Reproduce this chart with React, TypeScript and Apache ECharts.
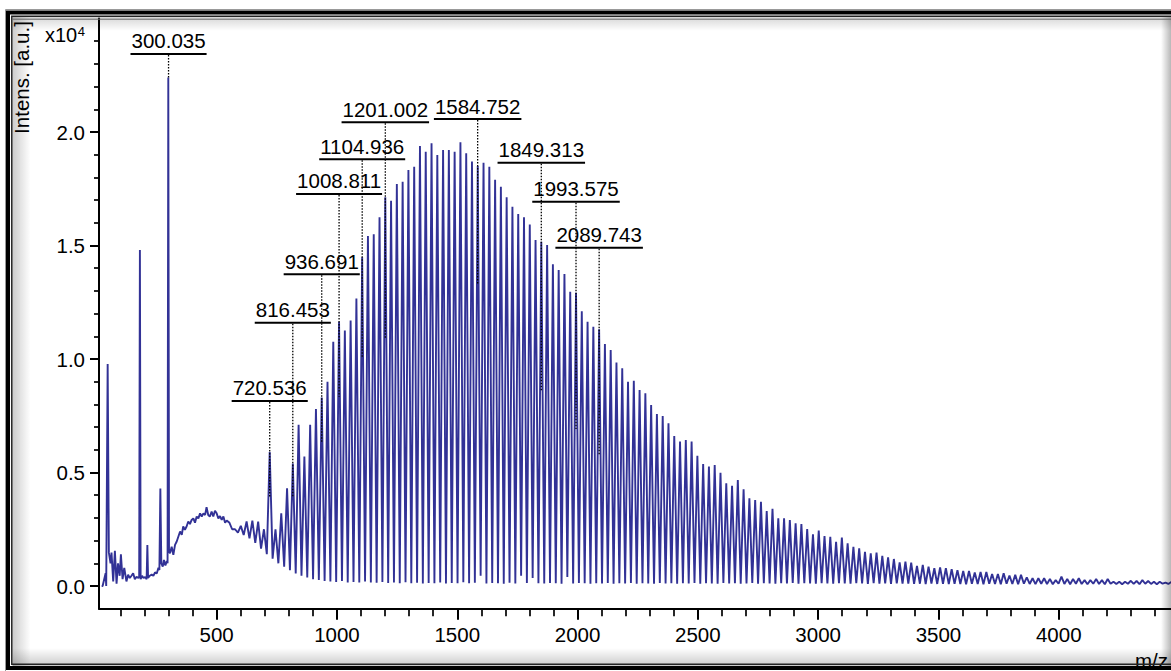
import React, { useEffect, useRef } from 'react';
import * as echarts from 'echarts';

// Low-mass region (matrix peaks + broad hump), m/z and intensity (x10^4 a.u.)
const lowMassMz = [22, 26, 38.5, 41, 47, 52, 59, 63, 70, 77, 84, 90, 97, 102, 109, 116, 125, 132, 139, 146, 153, 160, 167, 175, 178, 181, 184, 190, 196, 203, 209, 212, 215, 222, 230, 237, 244, 251, 258, 262, 266, 270, 276, 281, 287, 293, 296, 299, 302, 306, 313, 320, 327, 334, 341, 348, 355, 361, 368, 375, 382, 389, 396, 403, 410, 417, 424, 431, 438, 445, 452, 458, 465, 472, 479, 486, 493, 500, 507, 514, 521, 528, 535, 542];
const lowMassIntensity = [0, 0, 0.056, 0, 0.978, 0.147, 0.1, 0.147, 0.02, 0.155, 0.01, 0.1, 0.045, 0.14, 0.03, 0.08, 0.02, 0.05, 0.035, 0.045, 0.056, 0.03, 0.04, 0.035, 0.04, 1.48, 0.03, 0.045, 0.035, 0.04, 0.03, 0.18, 0.035, 0.045, 0.05, 0.045, 0.06, 0.055, 0.08, 0.07, 0.43, 0.1, 0.085, 0.115, 0.09, 0.11, 0.1, 2.24, 0.15, 0.144, 0.173, 0.137, 0.181, 0.196, 0.218, 0.24, 0.225, 0.262, 0.247, 0.262, 0.284, 0.273, 0.291, 0.298, 0.279, 0.306, 0.298, 0.32, 0.306, 0.32, 0.313, 0.347, 0.313, 0.306, 0.328, 0.306, 0.332, 0.32, 0.298, 0.308, 0.291, 0.306, 0.279, 0.288];

// Oligomer peak series (peak tops)
const peakMz = [
  552.4, 576.4, 600.4, 624.4, 648.4, 672.5, 696.5,
  720.5, 744.5, 768.5, 792.6, 816.6, 840.6, 864.6, 888.6, 912.7, 936.7,
  960.7, 984.7, 1008.7, 1032.8, 1056.8, 1080.8, 1104.8, 1128.8, 1152.9, 1176.9,
  1200.9, 1224.9, 1248.9, 1273.0, 1297.0, 1321.0, 1345.0, 1369.0, 1393.1, 1417.1,
  1441.1, 1465.1, 1489.1, 1513.2, 1537.2, 1561.2, 1585.2, 1609.2, 1633.3, 1657.3,
  1681.3, 1705.3, 1729.3, 1753.4, 1777.4, 1801.4, 1825.4, 1849.4, 1873.5, 1897.5,
  1921.5, 1945.5, 1969.5, 1993.6, 2017.6, 2041.6, 2065.6, 2089.6, 2113.7, 2137.7,
  2161.7, 2185.7, 2209.7, 2233.8, 2257.8, 2281.8, 2305.8, 2329.8, 2353.9, 2377.9,
  2401.9, 2425.9, 2449.9, 2474.0, 2498.0, 2522.0, 2546.0, 2570.0, 2594.1, 2618.1,
  2642.1, 2666.1, 2690.1, 2714.2, 2738.2, 2762.2, 2786.2, 2810.2, 2834.3, 2858.3,
  2882.3, 2906.3, 2930.3, 2954.4, 2978.4, 3002.4, 3026.4, 3050.4, 3074.5, 3098.5,
  3122.5, 3146.5, 3170.5, 3194.6, 3218.6, 3242.6, 3266.6, 3290.6, 3314.7, 3338.7,
  3362.7, 3386.7, 3410.7, 3434.8, 3458.8, 3482.8, 3506.8, 3530.8, 3554.9, 3578.9,
  3602.9, 3626.9, 3650.9, 3675.0, 3699.0, 3723.0, 3747.0, 3771.0, 3795.1, 3819.1,
  3843.1, 3867.1, 3891.1, 3915.2, 3939.2, 3963.2, 3987.2, 4011.2, 4035.3, 4059.3,
  4083.3, 4107.3, 4131.3, 4155.4, 4179.4, 4203.4, 4227.4, 4251.4, 4275.5, 4299.5,
  4323.5, 4347.5, 4371.5, 4395.6, 4419.6, 4443.6, 4467.6,
];
const peakIntensity = [
  0.28, 0.25, 0.265, 0.284, 0.288, 0.284, 0.25,
  0.59, 0.25, 0.32, 0.43, 0.54, 0.71, 0.57, 0.71, 0.78, 0.83,
  0.9, 1.076, 1.164, 1.125, 1.17, 1.267, 1.448, 1.542, 1.55, 1.624,
  1.712, 1.697, 1.771, 1.781, 1.833, 1.847, 1.938, 1.913, 1.95, 1.899,
  1.921, 1.921, 1.913, 1.955, 1.906, 1.87, 1.85, 1.865, 1.847, 1.79,
  1.759, 1.712, 1.671, 1.639, 1.624, 1.593, 1.524, 1.517, 1.502, 1.417,
  1.392, 1.374, 1.296, 1.292, 1.21, 1.164, 1.142, 1.131, 1.066, 1.04,
  0.985, 0.959, 0.9, 0.904, 0.863, 0.849, 0.797, 0.758, 0.749, 0.717,
  0.661, 0.636, 0.643, 0.636, 0.574, 0.537, 0.526, 0.533, 0.499, 0.452,
  0.442, 0.467, 0.426, 0.386, 0.379, 0.371, 0.33, 0.34, 0.298, 0.298,
  0.291, 0.276, 0.273, 0.251, 0.228, 0.244, 0.22, 0.217, 0.195, 0.213,
  0.188, 0.173, 0.166, 0.151, 0.144, 0.147, 0.133, 0.126, 0.119, 0.104,
  0.107, 0.103, 0.088, 0.093, 0.085, 0.078, 0.082, 0.078, 0.074, 0.07,
  0.066, 0.066, 0.059, 0.062, 0.062, 0.053, 0.053, 0.056, 0.046, 0.049,
  0.049, 0.038, 0.034, 0.034, 0.034, 0.031, 0.026, 0.041, 0.031, 0.031,
  0.034, 0.026, 0.026, 0.031, 0.026, 0.031, 0.019, 0.019, 0.019, 0.023,
  0.022, 0.026, 0.022, 0.019, 0.019, 0.015, 0.018,
];

// Minima between consecutive peaks
const valleyMz = [
  564.4, 588.4, 612.4, 636.4, 660.5, 684.5, 708.5,
  732.5, 756.5, 780.6, 804.6, 828.6, 852.6, 876.6, 900.7, 924.7, 948.7,
  972.7, 996.7, 1020.8, 1044.8, 1068.8, 1092.8, 1116.8, 1140.9, 1164.9, 1188.9,
  1212.9, 1236.9, 1261.0, 1285.0, 1309.0, 1333.0, 1357.0, 1381.1, 1405.1, 1429.1,
  1453.1, 1477.1, 1501.2, 1525.2, 1549.2, 1573.2, 1597.2, 1621.3, 1645.3, 1669.3,
  1693.3, 1717.3, 1741.4, 1765.4, 1789.4, 1813.4, 1837.4, 1861.5, 1885.5, 1909.5,
  1933.5, 1957.5, 1981.6, 2005.6, 2029.6, 2053.6, 2077.6, 2101.7, 2125.7, 2149.7,
  2173.7, 2197.7, 2221.8, 2245.8, 2269.8, 2293.8, 2317.8, 2341.9, 2365.9, 2389.9,
  2413.9, 2437.9, 2462.0, 2486.0, 2510.0, 2534.0, 2558.0, 2582.1, 2606.1, 2630.1,
  2654.1, 2678.1, 2702.2, 2726.2, 2750.2, 2774.2, 2798.2, 2822.3, 2846.3, 2870.3,
  2894.3, 2918.3, 2942.4, 2966.4, 2990.4, 3014.4, 3038.4, 3062.5, 3086.5, 3110.5,
  3134.5, 3158.5, 3182.6, 3206.6, 3230.6, 3254.6, 3278.6, 3302.7, 3326.7, 3350.7,
  3374.7, 3398.7, 3422.8, 3446.8, 3470.8, 3494.8, 3518.8, 3542.9, 3566.9, 3590.9,
  3614.9, 3638.9, 3663.0, 3687.0, 3711.0, 3735.0, 3759.0, 3783.1, 3807.1, 3831.1,
  3855.1, 3879.1, 3903.2, 3927.2, 3951.2, 3975.2, 3999.2, 4023.3, 4047.3, 4071.3,
  4095.3, 4119.3, 4143.4, 4167.4, 4191.4, 4215.4, 4239.4, 4263.5, 4287.5, 4311.5,
  4335.5, 4359.5, 4383.6, 4407.6, 4431.6, 4455.6, 4479.6,
];
const valleyIntensity = [
  0.25, 0.235, 0.225, 0.21, 0.19, 0.165, 0.14,
  0.12, 0.1, 0.085, 0.07, 0.055, 0.045, 0.037, 0.03, 0.026, 0.022,
  0.02, 0.018, 0.022, 0.016, 0.018, 0.015, 0.02, 0.015, 0.014, 0.018,
  0.013, 0.015, 0.012, 0.016, 0.012, 0.014, 0.011, 0.013, 0.012, 0.015,
  0.011, 0.013, 0.012, 0.016, 0.012, 0.014, 0.045, 0.011, 0.013, 0.012,
  0.01, 0.014, 0.011, 0.045, 0.013, 0.035, 0.012, 0.011, 0.013, 0.012,
  0.01, 0.04, 0.011, 0.013, 0.012, 0.01, 0.012, 0.011, 0.013, 0.01,
  0.012, 0.011, 0.013, 0.01, 0.012, 0.011, 0.01, 0.013, 0.011, 0.012,
  0.01, 0.012, 0.011, 0.013, 0.01, 0.012, 0.011, 0.01, 0.013, 0.011,
  0.012, 0.01, 0.011, 0.013, 0.01, 0.012, 0.011, 0.01, 0.012, 0.011,
  0.013, 0.01, 0.012, 0.011, 0.01, 0.012, 0.011, 0.01, 0.012, 0.011,
  0.01, 0.012, 0.011, 0.009, 0.012, 0.01, 0.011, 0.009, 0.012, 0.01,
  0.011, 0.009, 0.01, 0.008, 0.011, 0.009, 0.01, 0.008, 0.01, 0.009,
  0.008, 0.01, 0.009, 0.008, 0.01, 0.009, 0.008, 0.01, 0.009, 0.008,
  0.01, 0.009, 0.008, 0.01, 0.009, 0.008, 0.01, 0.009, 0.008, 0.01,
  0.009, 0.008, 0.01, 0.009, 0.008, 0.01, 0.009, 0.008, 0.01, 0.009,
  0.008, 0.01, 0.009, 0.008, 0.01, 0.009, 0.008,
];

// Axis ticks
const xMajorTicks = [500, 1000, 1500, 2000, 2500, 3000, 3500, 4000];
const xMinorTicks = [100, 200, 300, 400, 600, 700, 800, 900, 1100, 1200, 1300, 1400, 1600, 1700, 1800, 1900, 2100, 2200, 2300, 2400, 2600, 2700, 2800, 2900, 3100, 3200, 3300, 3400, 3600, 3700, 3800, 3900, 4100, 4200, 4300, 4400];
const yMajorTicks = [0, 0.5, 1, 1.5, 2];
const yMinorTicks = [0.1, 0.2, 0.3, 0.4, 0.6, 0.7, 0.8, 0.9, 1.1, 1.2, 1.3, 1.4, 1.6, 1.7, 1.8, 1.9, 2.1, 2.2, 2.3, 2.4];

// Peak annotations
const peakLabels = ['300.035', '720.536', '816.453', '936.691', '1008.811', '1104.936', '1201.002', '1584.752', '1849.313', '1993.575', '2089.743'];
const labelLineLevel = [2.344, 0.815, 1.16, 1.373, 1.727, 1.88, 2.043, 2.057, 1.865, 1.693, 1.49];
const labelDropLevel = [2.24, 0.393, 0.393, 0.629, 0.834, 1.003, 1.091, 1.333, 0.86, 0.692, 0.577];

const FONT = 'Arial, "Liberation Sans", sans-serif';
const FS = 20.5;

export default function App() {
  const ref = useRef<HTMLDivElement>(null);

  useEffect(() => {
    const chart = echarts.init(ref.current!, null, { renderer: 'svg' });
    const data: number[][] = [];
    lowMassMz.forEach((m, i) => data.push([m, lowMassIntensity[i]]));
    peakMz.forEach((m, i) => {
      data.push([m, peakIntensity[i]]);
      data.push([valleyMz[i], valleyIntensity[i]]);
    });

    const axisText = { fontSize: FS, color: '#000', fontFamily: FONT };
    const option: any = {
      animation: false,
      backgroundColor: '#ffffff',
      grid: { left: 99, right: 0, top: 18.5, bottom: 62.3 },
      xAxis: [
        {
          type: 'value', min: 11, max: 4466.5, position: 'bottom',
          axisLine: { show: true, onZero: false, lineStyle: { color: '#000', width: 2 } },
          axisTick: { show: true, customValues: xMajorTicks, length: 11, lineStyle: { color: '#000', width: 2 } },
          axisLabel: { show: true, customValues: xMajorTicks, margin: 15, ...axisText, formatter: (v: number) => String(v) },
          splitLine: { show: false },
        },
        {
          type: 'value', min: 11, max: 4466.5, position: 'bottom',
          axisLine: { show: false, onZero: false },
          axisTick: { show: true, customValues: xMinorTicks, length: 7.5, lineStyle: { color: '#000', width: 1.7 } },
          axisLabel: { show: false },
          splitLine: { show: false },
        },
      ],
      yAxis: [
        {
          type: 'value', min: -0.1, max: 2.5, position: 'left',
          axisLine: { show: true, onZero: false, lineStyle: { color: '#000', width: 2 } },
          axisTick: { show: true, customValues: yMajorTicks, length: 9, lineStyle: { color: '#000', width: 2 } },
          axisLabel: { show: true, customValues: yMajorTicks, margin: 14, ...axisText, formatter: (v: number) => v.toFixed(1) },
          splitLine: { show: false },
        },
        {
          type: 'value', min: -0.1, max: 2.5, position: 'left',
          axisLine: { show: false, onZero: false },
          axisTick: { show: true, customValues: yMinorTicks, length: 5, lineStyle: { color: '#000', width: 1.7 } },
          axisLabel: { show: false },
          splitLine: { show: false },
        },
      ],
      series: [
        {
          type: 'line', data, xAxisIndex: 0, yAxisIndex: 0,
          symbol: 'none', showSymbol: false, clip: true, silent: true,
          lineStyle: { color: '#323296', width: 1.9 },
        },
      ],
    };
    chart.setOption(option);

    const ctx = document.createElement('canvas').getContext('2d')!;
    ctx.font = `${FS}px "Liberation Sans"`;

    const gfx: any[] = [];
    const grad = (x1: number, y1: number, x2: number, y2: number, a: number, b: number) =>
      new echarts.graphic.LinearGradient(x1, y1, x2, y2, [
        { offset: 0, color: `rgba(0,0,0,${a})` },
        { offset: 1, color: `rgba(0,0,0,${b})` },
      ]);
    // inner bevel shading
    gfx.push({ type: 'rect', z: 0, silent: true, shape: { x: 12.5, y: 17, width: 18, height: 650 }, style: { fill: grad(0, 0, 1, 0, 0.2, 0) } });
    gfx.push({ type: 'rect', z: 0, silent: true, shape: { x: 12.5, y: 17, width: 1160, height: 14 }, style: { fill: grad(0, 0, 0, 1, 0.16, 0) } });
    gfx.push({ type: 'rect', z: 0, silent: true, shape: { x: 12.5, y: 648, width: 1160, height: 19 }, style: { fill: grad(0, 0, 0, 1, 0, 0.22) } });
    gfx.push({ type: 'rect', z: 20, silent: true, shape: { x: 1161, y: 17, width: 10, height: 650 }, style: { fill: grad(0, 0, 1, 0, 0, 0.28) } });

    // axis titles
    gfx.push({ type: 'text', z: 30, x: 21, y: 77.5, rotation: Math.PI / 2, style: { text: 'Intens. [a.u.]', fontSize: FS, fontFamily: FONT, fill: '#000', align: 'center', verticalAlign: 'middle', textAlign: 'center', textVerticalAlign: 'middle' } });
    gfx.push({ type: 'text', z: 30, x: 45, y: 34.6, style: { text: 'x10', fontSize: 20, fontFamily: FONT, fill: '#000', align: 'left', verticalAlign: 'middle', textAlign: 'left', textVerticalAlign: 'middle' } });
    gfx.push({ type: 'text', z: 30, x: 77.8, y: 31.3, style: { text: '4', fontSize: 13, fontFamily: FONT, fill: '#000', align: 'left', verticalAlign: 'middle', textAlign: 'left', textVerticalAlign: 'middle' } });
    gfx.push({ type: 'text', z: 30, x: 1135, y: 660, style: { text: 'm/z', fontSize: FS, fontFamily: FONT, fill: '#000', align: 'left', verticalAlign: 'middle', textAlign: 'left', textVerticalAlign: 'middle' } });

    // peak labels
    peakLabels.forEach((txt, i) => {
      const mz = parseFloat(txt);
      const top = chart.convertToPixel({ seriesIndex: 0 }, [mz, labelLineLevel[i]]) as number[];
      const bot = chart.convertToPixel({ seriesIndex: 0 }, [mz, labelDropLevel[i]]) as number[];
      const w = ctx.measureText(txt).width + 2;
      const px = top[0];
      gfx.push({ type: 'line', z: 40, silent: true, shape: { x1: px - w / 2, y1: top[1], x2: px + w / 2, y2: top[1] }, style: { stroke: '#000', lineWidth: 2 } });
      gfx.push({ type: 'line', z: 40, silent: true, shape: { x1: px, y1: top[1] + 1, x2: px, y2: bot[1] }, style: { stroke: '#000', lineWidth: 1.3, lineDash: [1.5, 1.5] } });
      gfx.push({ type: 'text', z: 40, silent: true, x: px, y: top[1] - 13, style: { text: txt, fontSize: FS, fontFamily: FONT, fill: '#000', align: 'center', verticalAlign: 'middle', textAlign: 'center', textVerticalAlign: 'middle' } });
    });

    // window frame
    gfx.push({ type: 'rect', z: 100, silent: true, shape: { x: 5.5, y: 9.5, width: 1200, height: 670 }, style: { fill: 'none', stroke: '#999', lineWidth: 1 } });
    gfx.push({ type: 'rect', z: 101, silent: true, shape: { x: 8, y: 12.5, width: 1200, height: 655.5 }, style: { fill: 'none', stroke: '#000', lineWidth: 4 } });
    gfx.push({ type: 'rect', z: 101, silent: true, shape: { x: 11.8, y: 16.2, width: 1200, height: 648 }, style: { fill: 'none', stroke: '#222', lineWidth: 1.5 } });
    gfx.push({ type: 'line', z: 101, silent: true, shape: { x1: 12.5, y1: 19.2, x2: 1171, y2: 19.2 }, style: { stroke: '#666', lineWidth: 1 } });

    chart.setOption({ graphic: gfx });

    return () => chart.dispose();
  }, []);

  return (
    <div style={{ position: 'absolute', left: 0, top: 0, width: 1171, height: 671, overflow: 'hidden', background: '#fff' }}>
      <div ref={ref} style={{ width: 1171, height: 671 }} />
    </div>
  );
}
